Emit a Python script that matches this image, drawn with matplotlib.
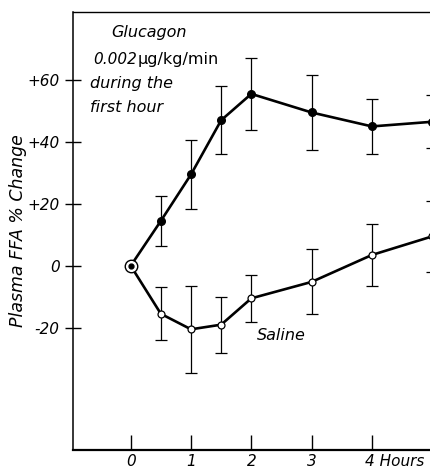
import matplotlib
matplotlib.use("Agg")
import matplotlib.pyplot as plt
from matplotlib.transforms import ScaledTranslation

plt.rcParams['font.family'] = ['Liberation Sans Narrow', 'DejaVu Sans']

# hours after start of infusion
hours = [0, 0.5, 1, 1.5, 2, 3, 4, 5]

# glucagon: % change of plasma FFA and error
glucagon = [0, 14.5, 29.5, 47, 55.5, 49.5, 45, 46.5]
glucagon_err = [0, 8, 11, 11, 11.5, 12, 9, 8.5]

# saline control
saline = [0, -15.5, -20.5, -19, -10.5, -5.2, 3.5, 9.5]
saline_err = [0, 8.5, 14, 9, 7.5, 10.5, 10, 11.5]

yticks = [60, 40, 20, 0, -20]
ytick_labels = ["+60", "+40", "+20", "0", "-20"]
xticks = [0, 1, 2, 3, 4]
xtick_labels = ["0", "1", "2", "3", "4 Hours"]

fig = plt.figure(figsize=(4.31, 4.72), dpi=100)
ax = fig.add_axes([0.169, 0.047, 0.831, 0.928])

# error bars first, then lines and points on top
ax.errorbar(hours[1:], glucagon[1:], yerr=glucagon_err[1:], fmt='none',
            ecolor='black', elinewidth=0.9, capsize=4, capthick=0.9, zorder=2)
ax.errorbar(hours[1:], saline[1:], yerr=saline_err[1:], fmt='none',
            ecolor='black', elinewidth=0.9, capsize=4, capthick=0.9, zorder=2)

ax.plot(hours, glucagon, color='black', lw=1.9, zorder=3)
ax.plot(hours, saline, color='black', lw=1.9, zorder=3)

ax.plot(hours[1:], glucagon[1:], 'o', color='black', ms=5.5, zorder=4)
ax.plot(hours[1:], saline[1:], 'o', mfc='white', mec='black', mew=0.9,
        ms=5, zorder=4)

# common starting point: ringed dot
ax.plot(hours[:1], glucagon[:1], 'o', mfc='white', mec='black', mew=1.0,
        ms=9, zorder=5)
ax.plot(hours[:1], glucagon[:1], 'o', color='black', ms=3.5, zorder=6)

ax.set_xlim(-0.96, 4.98)
ax.set_ylim(-59.4, 82)

ax.set_yticks(yticks)
ax.set_yticklabels(ytick_labels, fontstyle='italic', fontsize=11)
ax.set_xticks(xticks)
ax.set_xticklabels(xtick_labels, fontstyle='italic', fontsize=11)
ax.tick_params(axis='y', direction='inout', length=11, width=1.0, pad=4)
ax.tick_params(axis='x', direction='in', length=11, width=1.0, pad=3)

# "4 Hours" starts just left of its tick
shift = ScaledTranslation(-5 / 72, 0, fig.dpi_scale_trans)
for lab in ax.get_xticklabels():
    if lab.get_text().startswith("4"):
        lab.set_horizontalalignment('left')
        lab.set_transform(lab.get_transform() + shift)

ax.spines['right'].set_visible(False)
ax.spines['left'].set_linewidth(1.1)
ax.spines['top'].set_linewidth(1.0)
ax.spines['bottom'].set_linewidth(1.6)

ax.set_ylabel("Plasma FFA % Change", fontstyle='italic', fontsize=12.5)
ax.yaxis.set_label_coords(-0.128, 0.5)

ax.text(-0.32, 75.2, "Glucagon", fontstyle='italic', fontsize=11.5,
        va='center', ha='left')
ax.text(-0.62, 66.5, "0.002", fontstyle='italic', fontsize=11,
        va='center', ha='left')
ax.text(0.12, 66.5, "\u00b5g/kg/min", fontsize=11.5, va='center', ha='left')
ax.text(-0.67, 59, "during the", fontstyle='italic', fontsize=11.5,
        va='center', ha='left')
ax.text(-0.67, 51, "first hour", fontstyle='italic', fontsize=11.5,
        va='center', ha='left')
ax.text(2.1, -22.6, "Saline", fontstyle='italic', fontsize=11.5,
        va='center', ha='left')

fig.savefig("out.png", dpi=100)
